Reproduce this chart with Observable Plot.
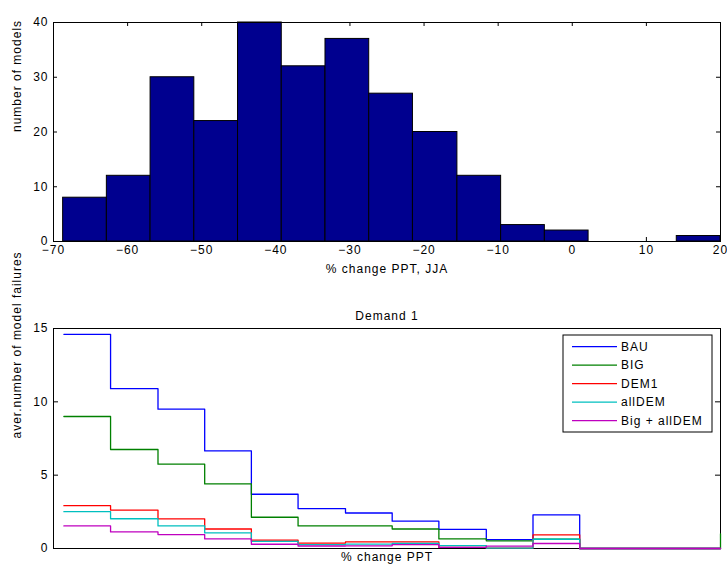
<!DOCTYPE html>
<html><head><meta charset="utf-8">
<script src="https://cdn.jsdelivr.net/npm/d3@7"></script>
<script src="https://cdn.jsdelivr.net/npm/@observablehq/plot@0.6"></script>
<style>
body{margin:0;background:#fff;}
#chart svg{display:block;}
</style></head><body><div id="chart"></div>
<script>
// ---- Histogram data ----
const histEdges = [-68.7, -62.8, -56.9, -51.0, -45.1, -39.2, -33.3, -27.4, -21.5, -15.5, -9.6, -3.7, 2.2, 8.2, 14.1, 20.0];
const histCounts = [8, 12, 30, 22, 40, 32, 37, 27, 20, 12, 3, 2, 0, 0, 1];
const histXTicks = [-70, -60, -50, -40, -30, -20, -10, 0, 10, 20];
const histYTicks = [0, 10, 20, 30, 40];

// ---- Failure step data (Demand 1) ----
const stepEdges = [-68.6, -62.3, -55.9, -49.6, -43.3, -37.0, -30.6, -24.3, -18.0, -11.6, -5.3, 1.0, 7.4, 13.7, 20.0];
const seriesNames = ["BAU", "BIG", "DEM1", "allDEM", "Big + allDEM"];
const seriesColors = ["#0000ff", "#008000", "#ff0000", "#00bfbf", "#bf00bf"];
const bau     = [14.6, 10.9, 9.5, 6.65, 3.7, 2.72, 2.42, 1.86, 1.31, 0.61, 2.29, 0, 0, 0, 0];
const big     = [9.0, 6.75, 5.75, 4.4, 2.13, 1.54, 1.54, 1.33, 0.65, 0.52, 0.63, 0, 0, 0, 1.0];
const dem1    = [2.92, 2.62, 2.02, 1.33, 0.57, 0.37, 0.45, 0.45, 0.07, 0.02, 0.93, 0, 0, 0, 0];
const allDem  = [2.51, 2.03, 1.54, 1.06, 0.48, 0.27, 0.3, 0.34, 0.2, 0.03, 0.63, 0, 0, 0, 0];
const bigAll  = [1.54, 1.13, 0.95, 0.65, 0.29, 0.17, 0.18, 0.27, 0.07, 0.16, 0.34, 0, 0, 0, 0];
const seriesValues = [bau, big, dem1, allDem, bigAll];
const failYTicks = [0, 5, 10, 15];

const FONT = "'Liberation Sans', Arial, Helvetica, sans-serif";
const STYLE = {fontFamily: FONT, fontSize: "12px", color: "#000", background: "#fff", letterSpacing: "1px", overflow: "visible"};
const TICK = 4;

const bins = histCounts.map((c, i) => ({x1: histEdges[i], x2: histEdges[i + 1], count: c}));

// inward tick marks drawn as short tick marks inset from the frame
function inwardTicks(xTicks, yTicks, frameW, frameH, len) {
  const m = [];
  if (xTicks) {
    m.push(Plot.tickX(xTicks, {x: d => d, insetBottom: frameH - len, stroke: "#000"}));
    m.push(Plot.tickX(xTicks, {x: d => d, insetTop: frameH - len, stroke: "#000"}));
  }
  if (yTicks) {
    m.push(Plot.tickY(yTicks, {y: d => d, insetRight: frameW - len, stroke: "#000"}));
    m.push(Plot.tickY(yTicks, {y: d => d, insetLeft: frameW - len, stroke: "#000"}));
  }
  return m;
}

const topChart = Plot.plot({
  width: 727, height: 290,
  marginLeft: 53, marginRight: 7, marginTop: 22, marginBottom: 49,
  style: STYLE,
  x: {domain: [-70, 20], axis: null},
  y: {domain: [0, 40], axis: null},
  marks: [
    ...inwardTicks(histXTicks, histYTicks, 667, 219, TICK),
    Plot.rectY(bins, {x1: "x1", x2: "x2", y: "count", fill: "#00008f", stroke: "#000", strokeWidth: 1}),
    Plot.frame({stroke: "#000"}),
    Plot.axisX({anchor: "bottom", ticks: histXTicks, tickSize: 0, tickPadding: 4, label: null}),
    Plot.axisY({anchor: "left", ticks: histYTicks, tickSize: 0, tickPadding: 5, label: null}),
    Plot.text(["% change PPT, JJA"], {frameAnchor: "bottom", dy: 31, text: d => d}),
    Plot.text(["number of models"], {frameAnchor: "left", dx: -36, rotate: -90, text: d => d})
  ]
});

const lineRows = [];
seriesNames.forEach((name, s) => {
  seriesValues[s].forEach((v, i) => lineRows.push({series: name, x: stepEdges[i], y: v}));
});

const legendMark = (index, scales, values, dims) => {
  const right = dims.width - dims.marginRight;
  const bw = 149, bh = 97;
  const bx = right - 8 - bw, by = dims.marginTop + 7;
  const g = d3.create("svg:g").attr("text-anchor", "start");
  g.append("rect").attr("x", bx).attr("y", by).attr("width", bw).attr("height", bh)
    .attr("fill", "#fff").attr("stroke", "#000");
  seriesNames.forEach((name, i) => {
    const yy = by + 11.7 + i * 18.5;
    g.append("line").attr("x1", bx + 9).attr("x2", bx + 54).attr("y1", yy).attr("y2", yy)
      .attr("stroke", seriesColors[i]).attr("stroke-width", 1.3);
    g.append("text").attr("x", bx + 58).attr("y", yy).attr("dy", "0.35em")
      .attr("text-anchor", "start").attr("fill", "#000").text(name);
  });
  return g.node();
};

const bottomChart = Plot.plot({
  width: 727, height: 276,
  marginLeft: 53, marginRight: 7, marginTop: 38, marginBottom: 18,
  style: STYLE,
  x: {domain: [-70, 20], axis: null},
  y: {domain: [0, 15], axis: null},
  color: {domain: seriesNames, range: seriesColors},
  marks: [
    Plot.frame({stroke: "#000"}),
    ...inwardTicks(null, failYTicks, 667, 220, 5),
    Plot.axisY({anchor: "left", ticks: failYTicks, tickSize: 0, tickPadding: 5, label: null}),
    Plot.line(lineRows, {x: "x", y: "y", z: "series", stroke: "series", curve: "step-after", strokeWidth: 1.3}),
    legendMark,
    Plot.text(["Demand 1"], {frameAnchor: "top", dy: -17, text: d => d}),
    Plot.text(["% change PPT"], {frameAnchor: "bottom", dy: 12.5, text: d => d}),
    Plot.text(["aver.number of model failures"], {frameAnchor: "left", dx: -36, rotate: -90, text: d => d})
  ]
});

const root = document.getElementById("chart");
root.appendChild(topChart);
root.appendChild(bottomChart);
</script>
</body></html>
